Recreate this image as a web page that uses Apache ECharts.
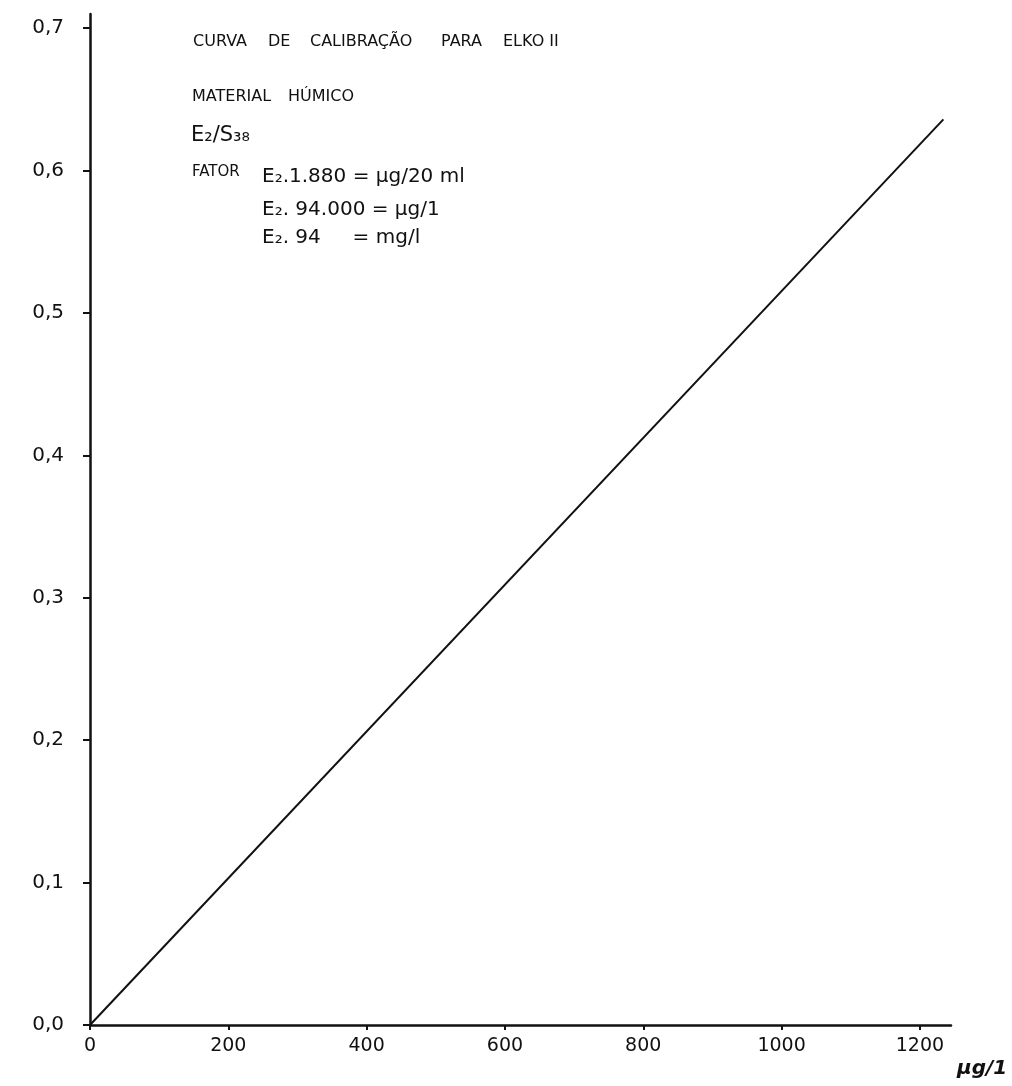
<!DOCTYPE html>
<html>
<head>
<meta charset="utf-8">
<script src="https://cdn.jsdelivr.net/npm/echarts@6/dist/echarts.min.js"></script>
<style>
html,body{margin:0;padding:0;background:#fff;}
#chart{width:1012px;height:1086px;}
</style>
</head>
<body>
<div id="chart"></div>
<script>
// Data
const xTicks = [0, 200, 400, 600, 800, 1000, 1200];
const yTicks = [0, 0.1, 0.2, 0.3, 0.4, 0.5, 0.6, 0.7];
const lineX = [0, 1234];
const lineY = [0, 0.636];
const xUnit = 'μg/1';
const titleWords = ['CURVA', 'DE', 'CALIBRAÇÃO', 'PARA', 'ELKO II'];
const subtitleWords = ['MATERIAL', 'HÚMICO'];
const ratioLabel = 'E₂/S₃₈';
const factorLabel = 'FATOR';
const factorLines = [
  'E₂.1.880 = μg/20 ml',
  'E₂. 94.000 = μg/1',
  'E₂. 94     = mg/l'
];

const chart = echarts.init(document.getElementById('chart'));
const font = 'DejaVu Sans';
const ink = '#111111';
const capFont = '16px "DejaVu Sans"';

// word placement for the lettered title lines (layout only)
const titleLeft = [193, 268, 310, 441, 503];
const subtitleLeft = [192, 288];
const graphics = [];
titleWords.forEach((w, i) => graphics.push({ type: 'text', left: titleLeft[i], top: 34, style: { text: w, font: capFont, fill: ink } }));
subtitleWords.forEach((w, i) => graphics.push({ type: 'text', left: subtitleLeft[i], top: 89, style: { text: w, font: capFont, fill: ink } }));
graphics.push({ type: 'text', left: 191, top: 125, style: { text: ratioLabel, font: '21px "DejaVu Sans"', fill: ink } });
graphics.push({ type: 'text', left: 192, top: 165, style: { text: factorLabel, font: '15px "DejaVu Sans"', fill: ink } });
factorLines.forEach((t, i) => graphics.push({ type: 'text', left: 262, top: [167, 200, 228][i], style: { text: t, font: '20px "DejaVu Sans"', fill: ink } }));

chart.setOption({
  backgroundColor: '#ffffff',
  animation: false,
  grid: { left: 90, right: 61, top: 14, bottom: 61 },
  xAxis: {
    type: 'value',
    min: 0, max: 1245,
    interval: 200,
    splitLine: { show: false },
    axisLine: { show: true, onZero: false, lineStyle: { color: ink, width: 2.5 } },
    axisTick: { show: true, length: 5, customValues: xTicks, lineStyle: { color: ink, width: 2 } },
    axisLabel: {
      customValues: xTicks,
      margin: 12,
      color: ink, fontFamily: font, fontSize: 19,
      formatter: v => String(v)
    },
    name: xUnit,
    nameLocation: 'end',
    nameGap: 6,
    nameTextStyle: {
      color: ink, fontFamily: font, fontSize: 20, fontStyle: 'italic', fontWeight: 'bold',
      align: 'left', verticalAlign: 'top', padding: [34, 0, 0, 0]
    }
  },
  yAxis: {
    type: 'value',
    min: 0, max: 0.71,
    interval: 0.1,
    splitLine: { show: false },
    axisLine: { show: true, onZero: false, lineStyle: { color: ink, width: 2.5 } },
    axisTick: { show: true, length: 7, customValues: yTicks, lineStyle: { color: ink, width: 2 } },
    axisLabel: {
      customValues: yTicks,
      margin: 26,
      color: ink, fontFamily: font, fontSize: 20,
      formatter: v => v.toFixed(1).replace('.', ',')
    }
  },
  series: [{
    type: 'line',
    data: lineX.map((x, i) => [x, lineY[i]]),
    showSymbol: false,
    lineStyle: { color: ink, width: 2 },
    silent: true
  }],
  graphic: graphics
});
</script>
</body>
</html>
